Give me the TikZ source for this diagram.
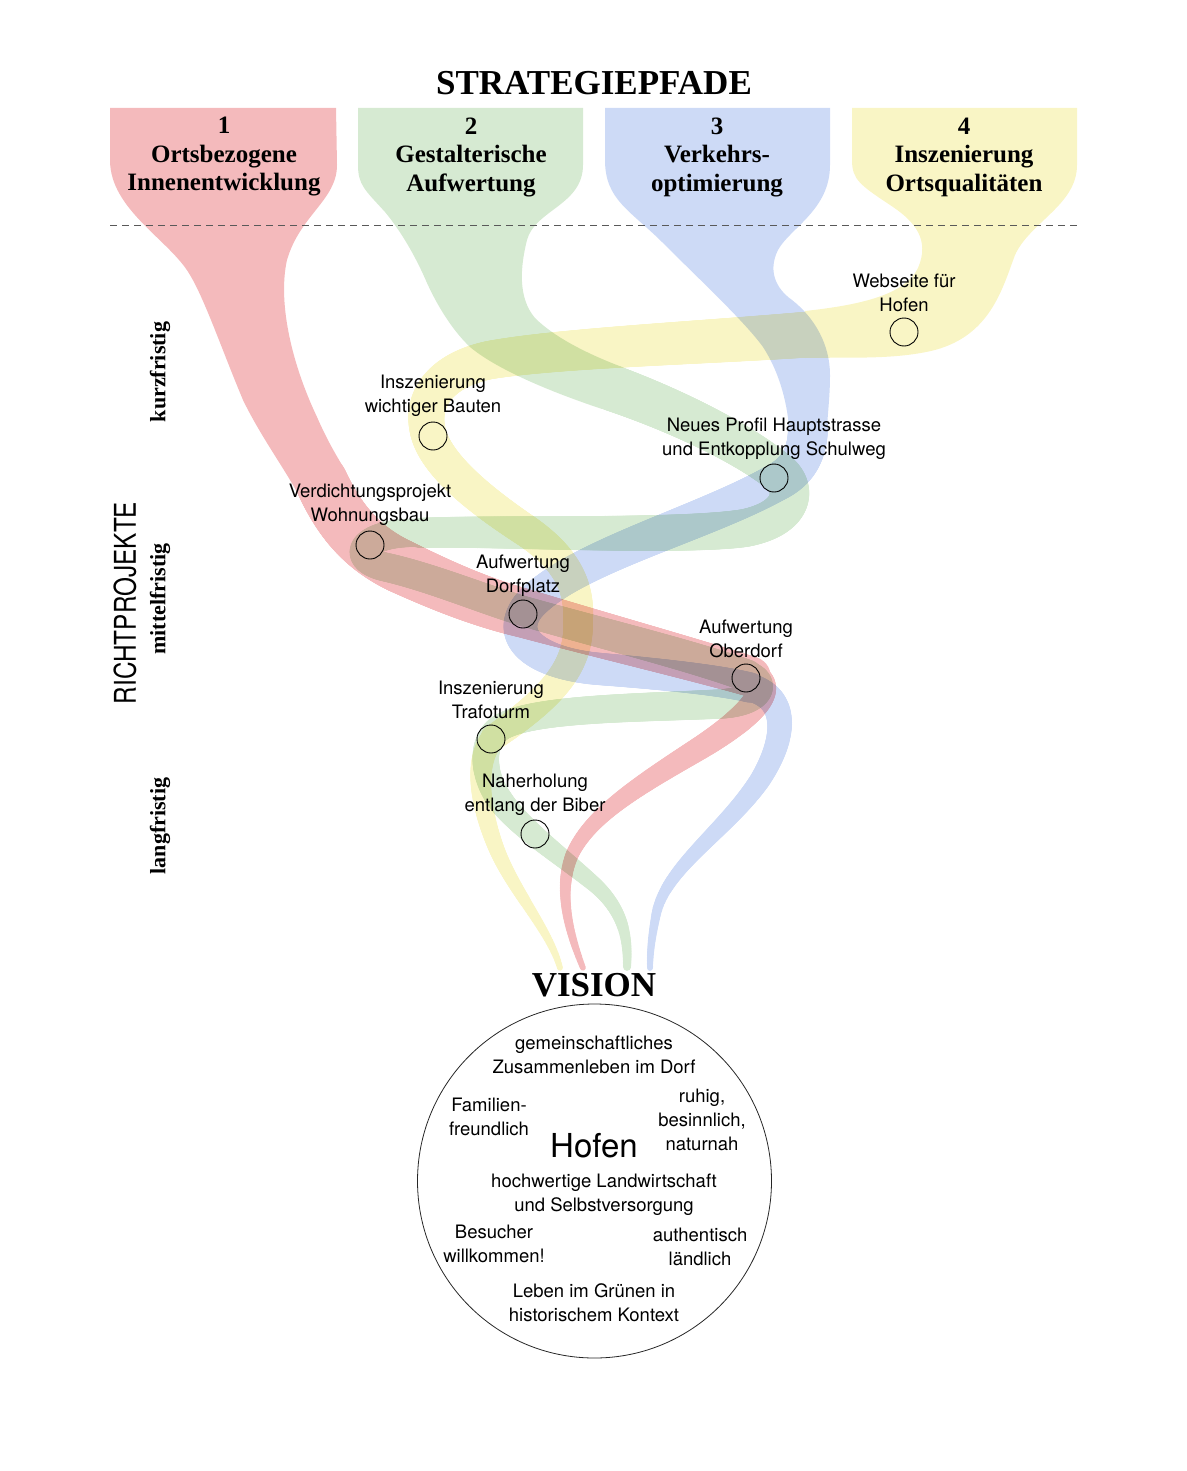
\documentclass[tikz,border=0pt]{standalone}
\usepackage{fontspec}
\usepackage{graphicx}
\setmainfont{Liberation Serif}
\setsansfont{TeX Gyre Heros}
\usetikzlibrary{decorations.markings}
\definecolor{cP}{RGB}{244,186,188}
\definecolor{cG}{RGB}{214,234,210}
\definecolor{cB}{RGB}{205,218,246}
\definecolor{cY}{RGB}{249,245,197}
\tikzset{
  taper/.style n args={3}{decoration={markings,
     mark=between positions 0 and 1 step 1.5pt with {%
       \pgfmathsetmacro\tapr{0.5*(#2+(#3-#2)*(\pgfkeysvalueof{/pgf/decoration/mark info/distance from start}/\pgfdecoratedpathlength))}%
       \fill[#1] (0pt,0pt) circle[radius=\tapr pt];}}, decorate},
  lbl/.style={font=\sffamily\fontsize{18.5}{24}\selectfont, align=center, text=black, inner sep=0pt},
  spot/.style={circle, draw=black, line width=0.9pt, minimum size=28pt, inner sep=0pt},
  head/.style={font=\bfseries\fontsize{25}{28.5}\selectfont, align=center, inner sep=0pt},
  big/.style={font=\bfseries\fontsize{35}{40}\selectfont, inner sep=0pt},
  phase/.style={font=\bfseries\fontsize{22}{24}\selectfont, rotate=90, inner sep=0pt},
  dashline/.style={draw=black!65, line width=0.8pt, dash pattern=on 7pt off 5pt},
}
\begin{document}
\begin{tikzpicture}[x=1pt,y=-1pt]
\useasboundingbox (0,0) rectangle (1186,1471);

\begin{scope}[blend mode=multiply]
% ---------- yellow ----------
\begin{scope}[transparency group]
\fill[cY] (852,108) -- (1077,108) -- (1077,165) .. controls (1077,205) and (1030,222) .. (1015,255)
  .. controls (1002,290) and (990,335) .. (935,350) .. controls (895,360) and (850,357) .. (805,358)
  -- (805,311) .. controls (860,305) and (905,295) .. (918,268) .. controls (930,240) and (915,222) .. (893,207)
  .. controls (860,185) and (852,180) .. (852,160) -- cycle;
\path[taper={cY}{46}{26}] (815,334) .. controls (700,343) and (560,348) .. (490,360)
  .. controls (440,370) and (420,400) .. (428,432) .. controls (436,465) and (480,500) .. (525,530)
  .. controls (565,557) and (580,585) .. (578,620) .. controls (580,665) and (555,695) .. (493,738);
\path[taper={cY}{24}{6}] (493,738) .. controls (475,760) and (478,800) .. (495,845)
  .. controls (512,890) and (550,930) .. (560,968);
\end{scope}
% ---------- blue ----------
\begin{scope}[transparency group]
\fill[cB] (605,108) -- (830,108) -- (830,165) .. controls (830,210) and (790,228) .. (778,250)
  .. controls (768,270) and (775,288) .. (792,300) .. controls (815,318) and (830,345) .. (830,375)
  .. controls (830,395) and (828,410) .. (827,428) -- (789,428)
  .. controls (787,400) and (778,370) .. (763,347) .. controls (745,322) and (700,280) .. (663,243)
  .. controls (630,210) and (605,200) .. (605,160) -- cycle;
\path[taper={cB}{40}{38}] (808,426) .. controls (808,455) and (797,472) .. (775,483);
\path[taper={cB}{38}{30}] (775,483) .. controls (700,525) and (565,560) .. (527,608)
  .. controls (505,640) and (540,664) .. (600,669) .. controls (660,674) and (720,680) .. (752,688);
\path[taper={cB}{28}{6}] (752,688) .. controls (790,700) and (785,740) .. (760,780)
  .. controls (725,832) and (665,868) .. (656,915) .. controls (651,940) and (650,955) .. (650,968);
\end{scope}
% ---------- green ----------
\begin{scope}[transparency group]
\fill[cG] (358,108) -- (583,108) -- (583,165) .. controls (583,205) and (535,210) .. (527,240)
  .. controls (520,268) and (518,298) .. (535,318) .. controls (555,338) and (590,355) .. (622,367)
  -- (602,409) .. controls (560,395) and (500,372) .. (470,347) .. controls (452,330) and (437,305) .. (427,283)
  .. controls (415,255) and (400,230) .. (385,212) .. controls (365,190) and (358,185) .. (358,165) -- cycle;
\path[taper={cG}{46}{40}] (612,388) .. controls (680,412) and (745,445) .. (778,472);
\path[taper={cG}{40}{30}] (778,472) .. controls (798,488) and (795,518) .. (745,528)
  .. controls (680,538) and (480,530) .. (420,533);
\path[taper={cG}{28}{32}] (420,533) .. controls (363,531) and (346,558) .. (385,567)
  .. controls (430,577) and (480,598) .. (523,611) .. controls (600,633) and (690,655) .. (748,676);
\path[taper={cG}{30}{26}] (748,676) .. controls (768,684) and (758,702) .. (720,704)
  .. controls (640,708) and (530,708) .. (500,728) .. controls (480,742) and (482,775) .. (500,800);
\path[taper={cG}{26}{8}] (500,800) .. controls (520,828) and (560,855) .. (595,885)
  .. controls (625,912) and (628,940) .. (627,968);
\end{scope}
% ---------- pink ----------
\begin{scope}[transparency group]
\fill[cP] (110,108) -- (336,108) -- (337,165) .. controls (337,200) and (300,215) .. (287,260)
  .. controls (278,300) and (290,360) .. (317,417) .. controls (327,440) and (336,455) .. (345,470)
  -- (297,492) .. controls (282,465) and (260,435) .. (243,400) .. controls (222,350) and (205,300) .. (190,275)
  .. controls (170,240) and (110,210) .. (110,160) -- cycle;
\path[taper={cP}{53}{54}] (321,481) .. controls (338,518) and (360,547) .. (400,566);
\path[taper={cP}{54}{40}] (400,566) .. controls (440,585) and (480,602) .. (523,613)
  .. controls (600,635) and (700,661) .. (752,677);
\path[taper={cP}{30}{6}] (752,677) .. controls (778,688) and (748,718) .. (700,748)
  .. controls (640,785) and (590,815) .. (572,855) .. controls (558,890) and (568,930) .. (583,968);
\end{scope}
\end{scope}

% ---------- dashed separator ----------
\coordinate (dl) at (110,225);
\coordinate (dr) at (1077,225);
\draw[dashline] (dl) -- (dr);

% ---------- titles ----------
\node[big] (title) at (594,83) {STRATEGIEPFADE};
\node[head] (h1) at (224,157) {1\\Ortsbezogene\\Innenentwicklung};
\node[head] (h2) at (471,157) {2\\Gestalterische\\Aufwertung};
\node[head] (h3) at (717,157) {3\\Verkehrs-\\optimierung};
\node[head] (h4) at (964,157) {4\\Inszenierung\\Ortsqualitäten};

\node[phase] (k1) at (160,372) {kurzfristig};
\node[phase] (k2) at (160,599) {mittelfristig};
\node[phase] (k3) at (160,826) {langfristig};
\node[rotate=90, font=\sffamily\fontsize{30}{32}\selectfont, inner sep=0pt] (rp) at (125,603) {\scalebox{0.81}[1]{RICHTPROJEKTE}};

% ---------- project spots ----------
\node[lbl] (t1) at (904,293) {Webseite für\\Hofen};
\node[spot] (s1) at (904,332) {};
\node[lbl] (t2) at (433,396) {Inszenierung\\wichtiger Bauten};
\node[spot] (s2) at (433,436) {};
\node[lbl] (t3) at (774,439) {Neues Profil Hauptstrasse\\und Entkopplung Schulweg};
\node[spot] (s3) at (774,478) {};
\node[lbl] (t4) at (370,505) {Verdichtungsprojekt\\Wohnungsbau};
\node[spot] (s4) at (370,545) {};
\node[lbl] (t5) at (523,576) {Aufwertung\\Dorfplatz};
\node[spot] (s5) at (523,614) {};
\node[lbl] (t6) at (746,639) {Aufwertung\\Oberdorf};
\node[spot] (s6) at (746,678) {};
\node[lbl] (t7) at (491,700) {Inszenierung\\Trafoturm};
\node[spot] (s7) at (491,739) {};
\node[lbl] (t8) at (535,795) {Naherholung\\entlang der Biber};
\node[spot] (s8) at (535,834) {};

% ---------- vision ----------
\node[big] (vtitle) at (594,985) {VISION};
\node[circle, draw=black!85, line width=0.8pt, minimum size=354pt, inner sep=0pt] (vision) at (594.5,1181) {};
\node[lbl] (v1) at (594,1055) {gemeinschaftliches\\Zusammenleben im Dorf};
\node[lbl] (v2) at (489,1117) {Familien-\\freundlich};
\node[lbl] (v3) at (702,1120) {ruhig,\\besinnlich,\\naturnah};
\node[font=\sffamily\fontsize{33}{36}\selectfont, inner sep=0pt] (hofen) at (594,1146) {Hofen};
\node[lbl] (v4) at (604,1195) {hochwertige Landwirtschaft\\und Selbstversorgung};
\node[lbl] (v5) at (494,1244) {Besucher\\willkommen!};
\node[lbl] (v6) at (700,1247) {authentisch\\ländlich};
\node[lbl] (v7) at (594,1303) {Leben im Grünen in\\historischem Kontext};
\end{tikzpicture}
\end{document}
